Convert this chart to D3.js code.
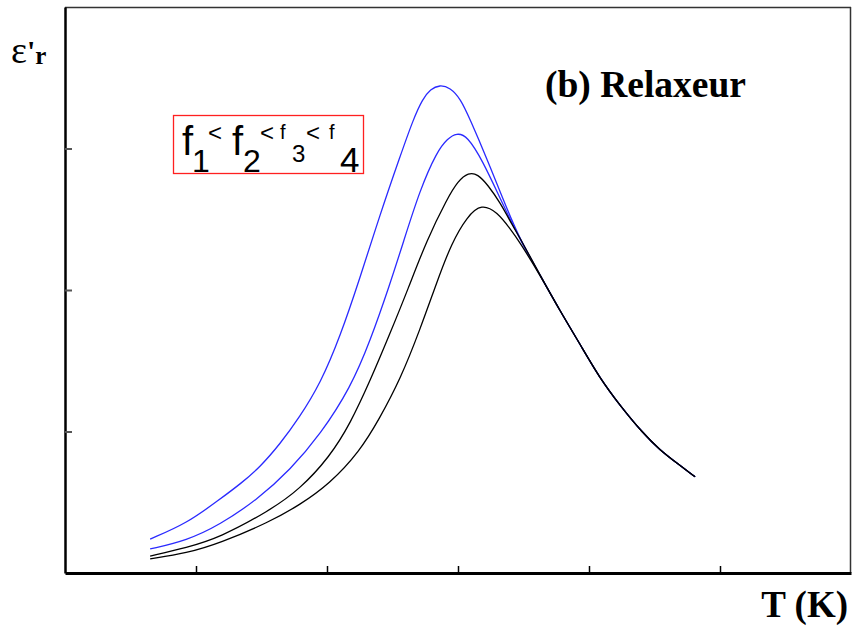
<!DOCTYPE html>
<html>
<head>
<meta charset="utf-8">
<script src="https://cdn.jsdelivr.net/npm/d3@7"></script>
<style>
  body { margin: 0; background: #fff; }
</style>
</head>
<body>
<svg width="852" height="626"></svg>
<script>
// permittivity curves (arbitrary units, T in tick steps)
// all four frequencies share the same high temperature branch
const tail = [[3.63, 2.10], [3.78, 1.85], [3.93, 1.62], [4.08, 1.38], [4.24, 1.18],
  [4.41, 0.99], [4.54, 0.87], [4.68, 0.77], [4.81, 0.68]];

const f1 = [[0.65, 0.24], [0.93, 0.35], [1.18, 0.52], [1.34, 0.63], [1.49, 0.75], [1.64, 0.91],
  [1.79, 1.10], [1.95, 1.34], [2.10, 1.67], [2.25, 2.08], [2.40, 2.52], [2.56, 2.95],
  [2.66, 3.21], [2.73, 3.35], [2.79, 3.42], [2.86, 3.45], [2.94, 3.43], [3.02, 3.35],
  [3.09, 3.21], [3.22, 2.93], [3.34, 2.65], [3.47, 2.36]];

const f2 = [[0.65, 0.17], [0.93, 0.23], [1.18, 0.34], [1.47, 0.52], [1.72, 0.73], [1.95, 0.98],
  [2.18, 1.31], [2.33, 1.64], [2.48, 2.04], [2.58, 2.33], [2.71, 2.71], [2.84, 2.98],
  [2.92, 3.07], [2.99, 3.11], [3.07, 3.09], [3.19, 2.91], [3.32, 2.65], [3.47, 2.36]];

const f3 = [[0.65, 0.12], [0.93, 0.18], [1.18, 0.25], [1.56, 0.44], [1.79, 0.59], [2.02, 0.82],
  [2.18, 1.06], [2.33, 1.36], [2.48, 1.69], [2.62, 2.01], [2.76, 2.35], [2.92, 2.65],
  [3.00, 2.77], [3.08, 2.83], [3.15, 2.82], [3.23, 2.74], [3.32, 2.62], [3.42, 2.45], [3.49, 2.34]];

const f4 = [[0.65, 0.10], [0.93, 0.14], [1.18, 0.21], [1.56, 0.36], [1.79, 0.48], [2.02, 0.63],
  [2.25, 0.86], [2.40, 1.09], [2.56, 1.37], [2.71, 1.72], [2.84, 2.06], [2.95, 2.33],
  [3.07, 2.52], [3.18, 2.61], [3.30, 2.55], [3.40, 2.43], [3.47, 2.34]];

const series = [f1, f2, f3, f4];
const seriesColors = ['#2a2aff', '#2a2aff', '#000', '#000'];
const xTicks = [1, 2, 3, 4, 5];
const yTicks = [1, 2, 3];

const svg = d3.select('svg');

const x = d3.scaleLinear().domain([0, 6]).range([65, 851]);
const y = d3.scaleLinear().domain([0, 4]).range([573, 7]);

// frame
svg.append('line').attr('x1', 65).attr('x2', 851).attr('y1', 7.5).attr('y2', 7.5)
    .attr('stroke', '#333').attr('stroke-width', 1.5);
svg.append('line').attr('x1', 850.5).attr('x2', 850.5).attr('y1', 7).attr('y2', 573)
    .attr('stroke', '#333').attr('stroke-width', 1.5);

const xAxis = svg.append('g')
    .attr('transform', 'translate(0, 573)')
    .call(d3.axisBottom(x).tickValues(xTicks).tickSizeInner(-7).tickSizeOuter(0).tickFormat(''));
xAxis.select('.domain').attr('stroke-width', 3);
xAxis.selectAll('.tick line').attr('stroke-width', 1.5);

const yAxis = svg.append('g')
    .attr('transform', 'translate(65, 0)')
    .call(d3.axisLeft(y).tickValues(yTicks).tickSizeInner(-7).tickSizeOuter(0).tickFormat(''));
yAxis.select('.domain').attr('stroke-width', 2.5);
yAxis.selectAll('.tick line').attr('stroke', '#555').attr('stroke-width', 2);

const line = d3.line()
    .x(d => x(d[0]))
    .y(d => y(d[1]))
    .curve(d3.curveBasis);

svg.append('g').selectAll('path')
  .data(series)
  .join('path')
    .attr('d', d => line(d.concat(tail)))
    .attr('fill', 'none')
    .attr('stroke', (d, i) => seriesColors[i])
    .attr('stroke-width', 1.3);

// labels
svg.append('text')
    .attr('x', 545).attr('y', 97)
    .attr('font-family', 'Liberation Serif, serif')
    .attr('font-weight', 'bold')
    .attr('font-size', 37.5)
    .text('(b) Relaxeur');

svg.append('text')
    .attr('x', 848).attr('y', 617)
    .attr('text-anchor', 'end')
    .attr('font-family', 'Liberation Serif, serif')
    .attr('font-weight', 'bold')
    .attr('font-size', 37)
    .text('T (K)');

const yl = svg.append('text')
    .attr('x', 11).attr('y', 63)
    .attr('font-family', 'Liberation Serif, serif');
yl.append('tspan').attr('font-size', 38).text('ε');
yl.append('tspan').attr('font-size', 30).attr('font-weight', 'bold').attr('dy', -2).text('\'');
yl.append('tspan').attr('font-size', 25).attr('font-weight', 'bold').attr('dy', 3).text('r');

// legend box
svg.append('rect')
    .attr('x', 173.5).attr('y', 115.5).attr('width', 190).attr('height', 58)
    .attr('fill', 'none').attr('stroke', '#ff2020').attr('stroke-width', 1.3);

const legendGlyphs = [
  { t: 'f', x: 182, y: 155, s: 40 },
  { t: '1', x: 192, y: 172, s: 32 },
  { t: '<', x: 208, y: 141, s: 24 },
  { t: 'f', x: 232, y: 155, s: 40 },
  { t: '2', x: 243, y: 172, s: 32 },
  { t: '<', x: 260, y: 141, s: 24 },
  { t: 'f', x: 280, y: 139, s: 20 },
  { t: '3', x: 292, y: 162, s: 24 },
  { t: '<', x: 306, y: 141, s: 24 },
  { t: 'f', x: 329, y: 139, s: 20 },
  { t: '4', x: 340, y: 172, s: 35 }
];
svg.append('g').selectAll('text')
  .data(legendGlyphs)
  .join('text')
    .attr('x', d => d.x).attr('y', d => d.y)
    .attr('font-family', 'Liberation Sans, Arial, sans-serif')
    .attr('font-size', d => d.s)
    .text(d => d.t);
</script>
</body>
</html>
